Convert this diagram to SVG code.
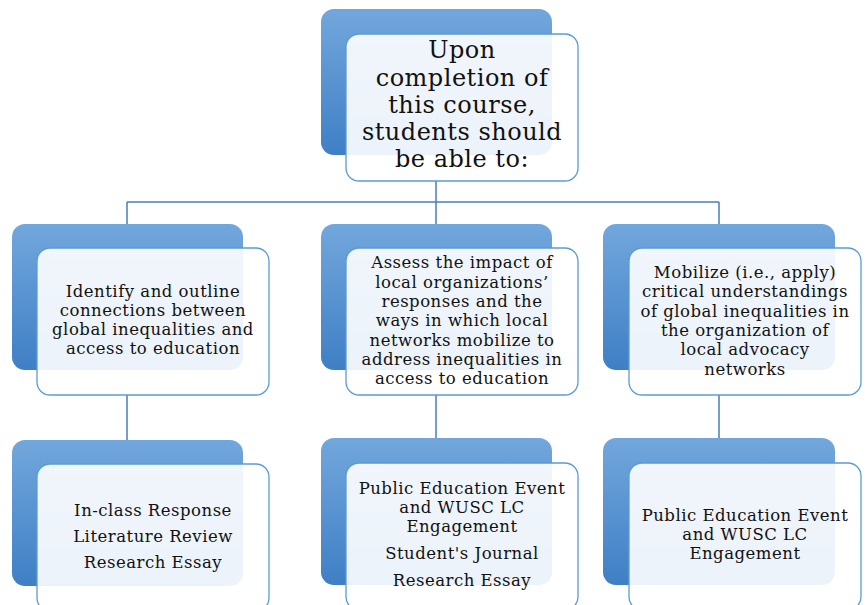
<svg xmlns="http://www.w3.org/2000/svg" width="867" height="605" viewBox="0 0 867 605">
<defs>
<linearGradient id="bg" x1="0" y1="0" x2="0" y2="1">
<stop offset="0" stop-color="#72a7dc"/>
<stop offset="1" stop-color="#3f7fc5"/>
</linearGradient>
<style>
.back{fill:url(#bg);}
.front{fill:#ffffff;fill-opacity:0.9;stroke:#5b9bd5;stroke-width:1.3;}
.conn{stroke:#4a7ebb;stroke-width:1.5;fill:none;}
text{font-family:"DejaVu Serif","Liberation Serif",serif;fill:#111;text-anchor:middle;}
.t{font-size:16.5px;letter-spacing:0.5px;}
.big{font-size:24px;letter-spacing:0.5px;}
</style>
</defs>
<rect width="867" height="605" fill="#ffffff"/>
<g id="connectors">
<path class="conn" d="M436,181 V202 M127,202 H719 M127,202 V224 M436,202 V224 M719,202 V224"/>
<path class="conn" d="M127,395 V440 M436,395 V438 M719,395 V438"/>
</g>
<g id="root">
<rect class="back" x="321" y="9" width="231" height="146" rx="13"/>
<rect class="front" x="346" y="34" width="232" height="147" rx="13"/>
<text class="big" x="462" y="58">Upon</text>
<text class="big" x="462" y="86">completion of</text>
<text class="big" x="462" y="113">this course,</text>
<text class="big" x="462" y="140">students should</text>
<text class="big" x="462" y="167">be able to:</text>
</g>
<g id="goal1">
<rect class="back" x="12" y="224" width="231" height="146" rx="13"/>
<rect class="front" x="37" y="248" width="232" height="147" rx="13"/>
<text class="t" x="153" y="297">Identify and outline</text>
<text class="t" x="153" y="316">connections between</text>
<text class="t" x="153" y="335">global inequalities and</text>
<text class="t" x="153" y="354">access to education</text>
</g>
<g id="goal2">
<rect class="back" x="321" y="224" width="231" height="146" rx="13"/>
<rect class="front" x="346" y="248" width="232" height="147" rx="13"/>
<text class="t" x="462" y="268">Assess the impact of</text>
<text class="t" x="462" y="288">local organizations’</text>
<text class="t" x="462" y="307">responses and the</text>
<text class="t" x="462" y="326">ways in which local</text>
<text class="t" x="462" y="346">networks mobilize to</text>
<text class="t" x="462" y="365">address inequalities in</text>
<text class="t" x="462" y="384">access to education</text>
</g>
<g id="goal3">
<rect class="back" x="603" y="224" width="232" height="146" rx="13"/>
<rect class="front" x="629" y="248" width="232" height="147" rx="13"/>
<text class="t" x="745" y="278">Mobilize (i.e., apply)</text>
<text class="t" x="745" y="297">critical understandings</text>
<text class="t" x="745" y="317">of global inequalities in</text>
<text class="t" x="745" y="336">the organization of</text>
<text class="t" x="745" y="355">local advocacy</text>
<text class="t" x="745" y="375">networks</text>
</g>
<g id="assess1">
<rect class="back" x="12" y="440" width="231" height="146" rx="13"/>
<rect class="front" x="37" y="464" width="232" height="147" rx="13"/>
<text class="t" x="153" y="516">In-class Response</text>
<text class="t" x="153" y="542">Literature Review</text>
<text class="t" x="153" y="568">Research Essay</text>
</g>
<g id="assess2">
<rect class="back" x="321" y="438" width="231" height="147" rx="13"/>
<rect class="front" x="346" y="463" width="232" height="147" rx="13"/>
<text class="t" x="462" y="494">Public Education Event</text>
<text class="t" x="462" y="513">and WUSC LC</text>
<text class="t" x="462" y="532">Engagement</text>
<text class="t" x="462" y="559">Student's Journal</text>
<text class="t" x="462" y="586">Research Essay</text>
</g>
<g id="assess3">
<rect class="back" x="603" y="438" width="232" height="147" rx="13"/>
<rect class="front" x="629" y="463" width="232" height="147" rx="13"/>
<text class="t" x="745" y="521">Public Education Event</text>
<text class="t" x="745" y="540">and WUSC LC</text>
<text class="t" x="745" y="559">Engagement</text>
</g>
</svg>
